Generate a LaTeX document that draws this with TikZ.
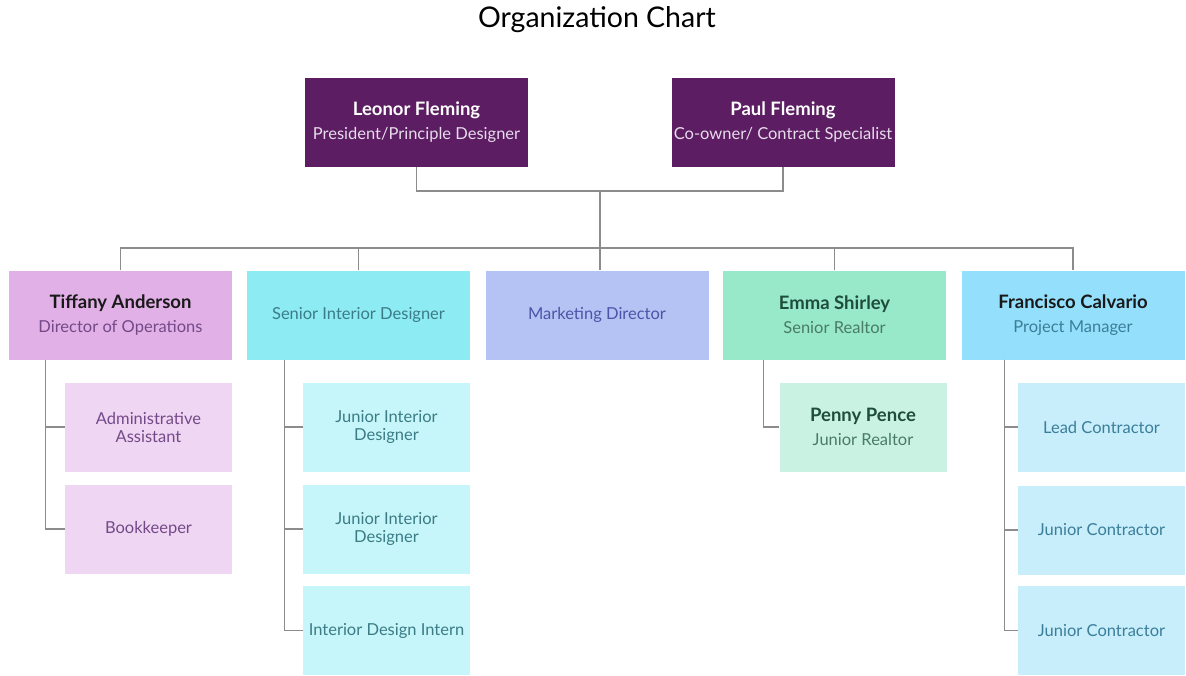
\documentclass[tikz,border=0pt]{standalone}
\usepackage{fontspec}
\setmainfont{Lato}
\usepackage{xcolor}
\usepackage{tikz}
\usetikzlibrary{positioning, calc}

\definecolor{topfill}{HTML}{5C1D63}
\definecolor{topsub}{HTML}{E6DCEA}
\definecolor{opsfill}{HTML}{E0B0E6}
\definecolor{opskid}{HTML}{EFD6F2}
\definecolor{opstext}{HTML}{74498A}
\definecolor{sidfill}{HTML}{8CEBF3}
\definecolor{sidkid}{HTML}{C6F6F9}
\definecolor{sidtext}{HTML}{3B7C86}
\definecolor{mktfill}{HTML}{B4C3F3}
\definecolor{mkttext}{HTML}{4A55A8}
\definecolor{relfill}{HTML}{98E9C9}
\definecolor{relkid}{HTML}{C9F2E3}
\definecolor{reltext}{HTML}{4A7B66}
\definecolor{relname}{HTML}{1F4D3B}
\definecolor{pmfill}{HTML}{94E0FC}
\definecolor{pmkid}{HTML}{C8EEFC}
\definecolor{pmtext}{HTML}{3B7E99}
\definecolor{wire}{HTML}{8C8C8C}

\newcommand{\nm}[1]{{\fontsize{18.5}{21}\selectfont\bfseries #1}\\[6pt]}

\begin{document}
\begin{tikzpicture}[x=1pt, y=-1pt,
    box/.style={minimum width=223pt, minimum height=89pt, inner sep=0pt, align=center, font=\fontsize{16.5}{18}\selectfont},
    kid/.style={box, minimum width=167pt},
    link/.style={draw=wire, line width=1.2pt}]
        \useasboundingbox (0,0) rectangle (1186,675);
        \node[font=\fontsize{28.5}{32}\selectfont] (title) at (597,20) {Organization Chart};

        % owners
        \node[box, fill=topfill, text=topsub] (leonor) at (416.5,122.5) {\nm{\color{white}Leonor Fleming}President/Principle Designer};
        \node[box, fill=topfill, text=topsub] (paul) at (783,122.5) {\nm{\color{white}Paul Fleming}Co-owner/ Contract Specialist};

        % second row
        \node[box, fill=opsfill, text=opstext] (tiffany) at (120.5,315) {\nm{\color{black!90}Tiffany Anderson}Director of Operations};
        \node[box, fill=sidfill, text=sidtext] (senior) at (358.5,315) {Senior Interior Designer};
        \node[box, fill=mktfill, text=mkttext] (marketing) at (597,315) {Marketing Director};
        \node[box, fill=relfill, text=reltext] (emma) at (834.5,315) {\nm{\color{relname}Emma Shirley}Senior Realtor};
        \node[box, fill=pmfill, text=pmtext] (francisco) at (1073,315) {\nm{\color{black!90}Francisco Calvario}Project Manager};

        % under Tiffany
        \node[kid, fill=opskid, text=opstext] (admin) at (148.5,427) {Administrative\\Assistant};
        \node[kid, fill=opskid, text=opstext] (books) at (148.5,529) {Bookkeeper};

        % under the senior designer
        \node[kid, fill=sidkid, text=sidtext] (junior1) at (386.5,427) {Junior Interior\\Designer};
        \node[kid, fill=sidkid, text=sidtext] (junior2) at (386.5,529) {Junior Interior\\Designer};
        \node[kid, fill=sidkid, text=sidtext] (intern) at (386.5,630.5) {Interior Design Intern};

        % under Emma
        \node[kid, fill=relkid, text=reltext] (penny) at (863,427) {\nm{\color{relname}Penny Pence}Junior Realtor};

        % under Francisco
        \node[kid, fill=pmkid, text=pmtext] (lead) at (1101.5,427) {Lead Contractor};
        \node[kid, fill=pmkid, text=pmtext] (jc1) at (1101.5,530) {Junior Contractor};
        \node[kid, fill=pmkid, text=pmtext] (jc2) at (1101.5,630.5) {Junior Contractor};

        % wires
        \coordinate (join) at (600,191);
        \coordinate (bus) at (600,248);
        \draw[link] (leonor.south) |- (join) -| (paul.south);
        \draw[link] (join) -- (bus);
        \draw[link] (tiffany.north) -- (tiffany.north |- bus) -- (francisco.north |- bus) -- (francisco.north);
        \draw[link] (senior.north) -- (senior.north |- bus);
        \draw[link] (bus) -- (bus |- marketing.north);
        \draw[link] (emma.north) -- (emma.north |- bus);

        \draw[link] ([xshift=37]tiffany.south west) |- (admin.west);
        \draw[link] ([xshift=37]tiffany.south west) |- (books.west);
        \draw[link] ([xshift=38]senior.south west) |- (junior1.west);
        \draw[link] ([xshift=38]senior.south west) |- (junior2.west);
        \draw[link] ([xshift=38]senior.south west) |- (intern.west);
        \draw[link] ([xshift=41]emma.south west) |- (penny.west);
        \draw[link] ([xshift=43]francisco.south west) |- (lead.west);
        \draw[link] ([xshift=43]francisco.south west) |- (jc1.west);
        \draw[link] ([xshift=43]francisco.south west) |- (jc2.west);
    \end{tikzpicture}
\end{document}
